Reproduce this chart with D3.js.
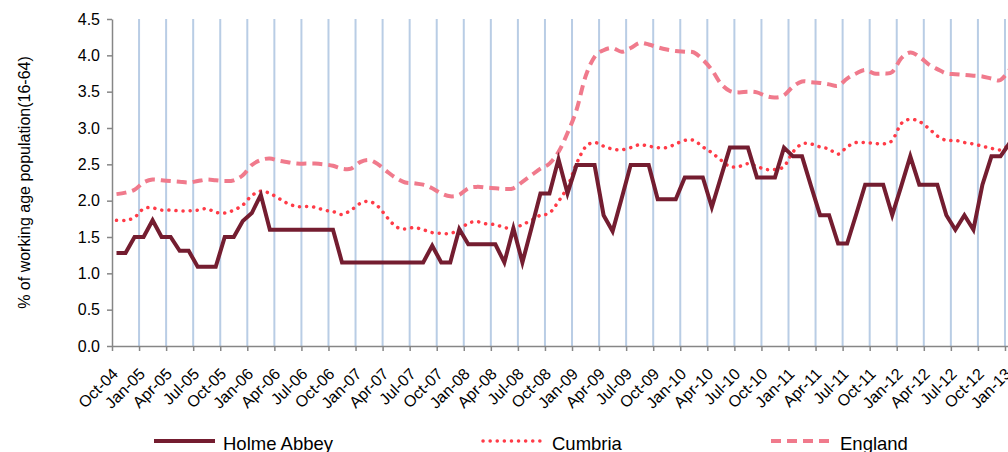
<!DOCTYPE html>
<html>
<head>
<meta charset="utf-8">
<script src="https://cdn.jsdelivr.net/npm/d3@7"></script>
<style>
  body { margin: 0; background: #fff; }
  text { font-family: "Liberation Sans", Arial, sans-serif; fill: #000; }
</style>
</head>
<body>
<svg id="chart" width="1008" height="452"></svg>
<script>
// quarterly tick labels (every 3rd month, Oct-04 .. Jan-13)
const tickLabels = ["Oct-04","Jan-05","Apr-05","Jul-05","Oct-05","Jan-06","Apr-06","Jul-06","Oct-06",
  "Jan-07","Apr-07","Jul-07","Oct-07","Jan-08","Apr-08","Jul-08","Oct-08","Jan-09","Apr-09","Jul-09",
  "Oct-09","Jan-10","Apr-10","Jul-10","Oct-10","Jan-11","Apr-11","Jul-11","Oct-11","Jan-12","Apr-12",
  "Jul-12","Oct-12","Jan-13"]
const yTicks = [0, 0.5, 1, 1.5, 2, 2.5, 3, 3.5, 4, 4.5]

// monthly values, Oct-04 .. Jan-13 (100 months)
const holmeAbbey = [1.28,1.28,1.50,1.50,1.73,1.50,1.50,1.31,1.31,1.09,
  1.09,1.09,1.50,1.50,1.72,1.83,2.08,1.60,1.60,1.60,
  1.60,1.60,1.60,1.60,1.60,1.15,1.15,1.15,1.15,1.15,
  1.15,1.15,1.15,1.15,1.15,1.38,1.15,1.15,1.61,1.40,
  1.40,1.40,1.40,1.15,1.62,1.15,1.62,2.10,2.10,2.57,
  2.10,2.49,2.49,2.49,1.80,1.58,2.03,2.49,2.49,2.49,
  2.02,2.02,2.02,2.32,2.32,2.32,1.91,2.32,2.73,2.73,
  2.73,2.32,2.32,2.32,2.73,2.61,2.61,2.20,1.80,1.80,
  1.41,1.41,1.81,2.22,2.22,2.22,1.80,2.20,2.61,2.22,
  2.22,2.22,1.80,1.60,1.80,1.60,2.22,2.61,2.61,2.79]
const cumbria = [1.73,1.73,1.77,1.89,1.90,1.87,1.87,1.86,1.86,1.87,
  1.89,1.84,1.83,1.87,1.94,2.07,2.13,2.10,2.03,1.96,
  1.92,1.92,1.91,1.87,1.85,1.81,1.87,1.96,1.99,1.92,
  1.77,1.64,1.61,1.63,1.60,1.56,1.55,1.55,1.60,1.69,
  1.71,1.68,1.67,1.63,1.62,1.67,1.73,1.80,1.83,1.99,
  2.19,2.51,2.74,2.80,2.75,2.71,2.70,2.73,2.77,2.75,
  2.73,2.73,2.78,2.83,2.83,2.74,2.66,2.56,2.47,2.47,
  2.51,2.47,2.43,2.43,2.47,2.67,2.78,2.78,2.74,2.71,
  2.64,2.74,2.80,2.80,2.79,2.78,2.83,3.06,3.12,3.09,
  3.00,2.89,2.83,2.83,2.80,2.78,2.75,2.72,2.70,2.77]
const england = [2.09,2.11,2.15,2.25,2.29,2.28,2.27,2.26,2.25,2.27,
  2.29,2.28,2.27,2.28,2.35,2.49,2.56,2.58,2.55,2.53,
  2.51,2.51,2.51,2.50,2.48,2.44,2.44,2.53,2.56,2.50,
  2.40,2.31,2.25,2.24,2.22,2.17,2.10,2.06,2.08,2.17,
  2.19,2.18,2.17,2.16,2.17,2.26,2.35,2.44,2.51,2.67,
  2.93,3.25,3.71,3.98,4.07,4.10,4.05,4.10,4.17,4.15,
  4.11,4.08,4.06,4.05,4.04,3.94,3.80,3.61,3.51,3.49,
  3.50,3.49,3.44,3.42,3.45,3.57,3.64,3.63,3.62,3.60,
  3.58,3.68,3.75,3.80,3.75,3.75,3.77,3.96,4.04,3.98,
  3.88,3.81,3.75,3.74,3.73,3.72,3.71,3.68,3.66,3.80]

const nMonths = holmeAbbey.length
const svg = d3.select('#chart')

// x is in month slots; points sit in the middle of their slot
const x = d3.scaleLinear().domain([0, nMonths]).range([112, 1014])
const y = d3.scaleLinear().domain([0, 4.5]).range([346, 19])

// vertical gridlines on the quarter ticks
svg.append('g').selectAll('line')
  .data(d3.range(3, nMonths, 3))
  .join('line')
  .attr('x1', d => x(d)).attr('x2', d => x(d))
  .attr('y1', y(4.5)).attr('y2', y(0))
  .attr('stroke', '#b9cde5').attr('stroke-width', 2)

// y axis
const yAxis = svg.append('g').attr('transform', `translate(${x(0)},0)`)
  .call(d3.axisLeft(y).tickValues(yTicks).tickFormat(d3.format('.1f')).tickSize(5).tickSizeOuter(0))
yAxis.selectAll('line, path').attr('stroke', '#868686').attr('stroke-width', 1.5)
yAxis.selectAll('text').attr('font-size', 16).attr('x', -12)

// x axis: ticks at quarter boundaries, labels rotated
const xAxis = svg.append('g').attr('transform', `translate(0,${y(0)})`)
  .call(d3.axisBottom(x).tickValues(d3.range(0, nMonths + 1, 3)).tickFormat('').tickSize(5).tickSizeOuter(0))
xAxis.selectAll('line, path').attr('stroke', '#868686').attr('stroke-width', 1.5)

svg.append('g').selectAll('text')
  .data(tickLabels)
  .join('text')
  .attr('transform', (d, i) => `translate(${x(i * 3 + 0.5) + 2.5},${y(0) + 29}) rotate(-45)`)
  .attr('text-anchor', 'end')
  .attr('font-size', 16)
  .text(d => d)

// y axis title
svg.append('text')
  .attr('transform', `translate(30,${(y(0) + y(4.5)) / 2}) rotate(-90)`)
  .attr('text-anchor', 'middle')
  .attr('font-size', 16)
  .text('% of working age population(16-64)')

// lines
const straight = d3.line().x((d, i) => x(i + 0.5)).y(d => y(d))
const smooth = d3.line().x((d, i) => x(i + 0.5)).y(d => y(d)).curve(d3.curveCatmullRom.alpha(0))

svg.append('path').datum(england)
  .attr('d', smooth).attr('fill', 'none')
  .attr('stroke', '#f07a8c').attr('stroke-width', 4)
  .attr('stroke-dasharray', '10 6')

svg.append('path').datum(cumbria)
  .attr('d', smooth).attr('fill', 'none')
  .attr('stroke', '#ff3b47').attr('stroke-width', 3.5)
  .attr('stroke-linecap', 'round')
  .attr('stroke-dasharray', '0.1 7')

svg.append('path').datum(holmeAbbey)
  .attr('d', straight).attr('fill', 'none')
  .attr('stroke', '#741d30').attr('stroke-width', 4)
  .attr('stroke-linejoin', 'miter')

// legend
const legend = [
  { name: 'Holme Abbey', x: 154, color: '#741d30', width: 4, dash: null, cap: 'butt' },
  { name: 'Cumbria', x: 483, color: '#ff3b47', width: 3.5, dash: '0.1 7', cap: 'round' },
  { name: 'England', x: 771, color: '#f07a8c', width: 4, dash: '10 6', cap: 'butt' }
]
const lg = svg.append('g').selectAll('g').data(legend).join('g')
lg.append('line')
  .attr('x1', d => d.x).attr('x2', d => d.x + 61)
  .attr('y1', 441).attr('y2', 441)
  .attr('stroke', d => d.color).attr('stroke-width', d => d.width)
  .attr('stroke-linecap', d => d.cap)
  .attr('stroke-dasharray', d => d.dash)
lg.append('text')
  .attr('x', d => d.x + 69).attr('y', 450)
  .attr('font-size', 18.5)
  .text(d => d.name)
</script>
</body>
</html>
